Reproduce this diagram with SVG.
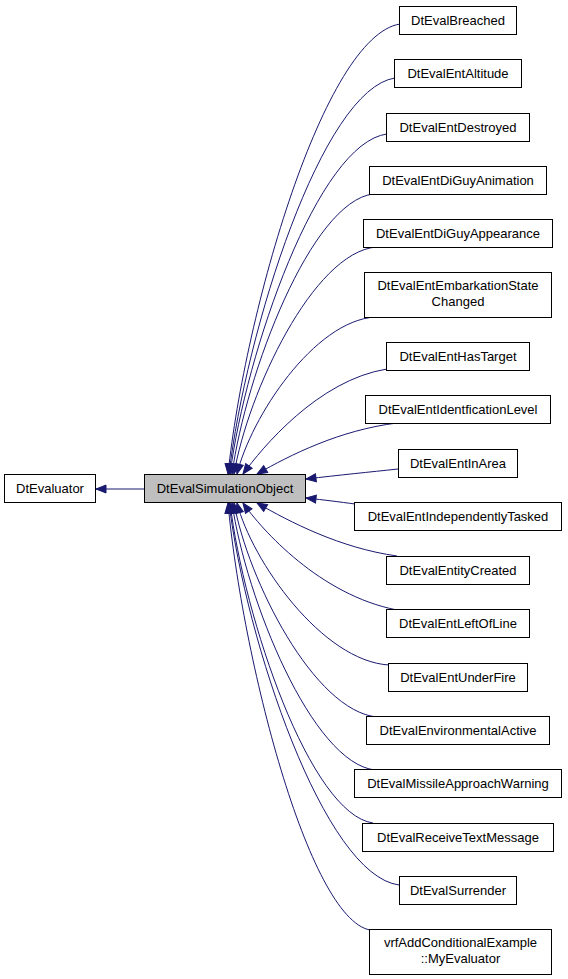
<svg xmlns="http://www.w3.org/2000/svg" width="568" height="979" viewBox="0 0 568 979">
<style>
.n rect{fill:#fff;stroke:#000;stroke-width:1}
.n.p rect{fill:#bfbfbf}
.n text{font-family:"Liberation Sans",Arial,sans-serif;font-size:13px;fill:#000;text-anchor:middle}
.e path{fill:none;stroke:#191970;stroke-width:1;marker-start:url(#ah)}
</style>
<defs>
<marker id="ah" markerUnits="userSpaceOnUse" viewBox="0 0 12 10" markerWidth="12" markerHeight="10" refX="11" refY="5" orient="auto-start-reverse">
<path d="M1,1 L11,5 L1,9 z" fill="#191970" stroke="#191970" stroke-width="1"/>
</marker>
</defs>
<rect width="568" height="979" fill="#fff"/>
<g id="connectors" class="e">
<path d="M96,489 L144,489"/>
<path d="M228,474 C245,312 324,36 400,24"/>
<path d="M229,474 C246,331 322,89 395,78"/>
<path d="M230,474 C246,352 318,143 387,134"/>
<path d="M232,474 C246,373 311,202 373,194"/>
<path d="M234,474 C248,392 313,253 376,247"/>
<path d="M237,474 C251,417 314,321 375,317"/>
<path d="M243,474 C262,448 318,380 387,369"/>
<path d="M257,474 C290,455 340,430 397,423"/>
<path d="M306,479 C340,475 370,472 398,469"/>
<path d="M306,498 C325,500 340,502 355,504"/>
<path d="M257,503 C290,522 340,548 397,556"/>
<path d="M243,503 C262,530 320,595 397,610"/>
<path d="M237,503 C252,561 322,661 389,665"/>
<path d="M234,503 C248,580 314,711 377,717"/>
<path d="M232,503 C246,599 312,763 375,770"/>
<path d="M230,503 C244,618 310,814 373,823"/>
<path d="M229,503 C246,641 324,875 399,885"/>
<path d="M228,503 C242,657 308,918 370,930"/>
</g>
<g id="DtEvaluator" class="n"><rect x="4.5" y="474.5" width="91" height="28"/><text x="50" y="493">DtEvaluator</text></g>
<g id="DtEvalSimulationObject" class="n p"><rect x="144.5" y="474.5" width="161" height="28"/><text x="225" y="493">DtEvalSimulationObject</text></g>
<g id="DtEvalBreached" class="n"><rect x="399.5" y="6.5" width="117" height="28"/><text x="458" y="25">DtEvalBreached</text></g>
<g id="DtEvalEntAltitude" class="n"><rect x="394.5" y="59.5" width="127" height="28"/><text x="458" y="78">DtEvalEntAltitude</text></g>
<g id="DtEvalEntDestroyed" class="n"><rect x="386.5" y="113.5" width="143" height="28"/><text x="458" y="132">DtEvalEntDestroyed</text></g>
<g id="DtEvalEntDiGuyAnimation" class="n"><rect x="369.5" y="166.5" width="177" height="28"/><text x="458" y="185">DtEvalEntDiGuyAnimation</text></g>
<g id="DtEvalEntDiGuyAppearance" class="n"><rect x="363.5" y="219.5" width="189" height="28"/><text x="458" y="238">DtEvalEntDiGuyAppearance</text></g>
<g id="DtEvalEntEmbarkationStateChanged" class="n"><rect x="364.5" y="272.5" width="187" height="45"/><text x="458" y="290">DtEvalEntEmbarkationState</text><text x="458" y="306">Changed</text></g>
<g id="DtEvalEntHasTarget" class="n"><rect x="386.5" y="342.5" width="143" height="28"/><text x="458" y="361">DtEvalEntHasTarget</text></g>
<g id="DtEvalEntIdentficationLevel" class="n"><rect x="365.5" y="395.5" width="185" height="28"/><text x="458" y="414">DtEvalEntIdentficationLevel</text></g>
<g id="DtEvalEntInArea" class="n"><rect x="398.5" y="449.5" width="119" height="28"/><text x="458" y="468">DtEvalEntInArea</text></g>
<g id="DtEvalEntIndependentlyTasked" class="n"><rect x="354.5" y="502.5" width="207" height="28"/><text x="458" y="521">DtEvalEntIndependentlyTasked</text></g>
<g id="DtEvalEntityCreated" class="n"><rect x="386.5" y="556.5" width="143" height="28"/><text x="458" y="575">DtEvalEntityCreated</text></g>
<g id="DtEvalEntLeftOfLine" class="n"><rect x="386.5" y="609.5" width="143" height="28"/><text x="458" y="628">DtEvalEntLeftOfLine</text></g>
<g id="DtEvalEntUnderFire" class="n"><rect x="388.5" y="663.5" width="139" height="28"/><text x="458" y="682">DtEvalEntUnderFire</text></g>
<g id="DtEvalEnvironmentalActive" class="n"><rect x="366.5" y="716.5" width="183" height="28"/><text x="458" y="735">DtEvalEnvironmentalActive</text></g>
<g id="DtEvalMissileApproachWarning" class="n"><rect x="354.5" y="769.5" width="207" height="28"/><text x="458" y="788">DtEvalMissileApproachWarning</text></g>
<g id="DtEvalReceiveTextMessage" class="n"><rect x="362.5" y="823.5" width="191" height="28"/><text x="458" y="842">DtEvalReceiveTextMessage</text></g>
<g id="DtEvalSurrender" class="n"><rect x="399.5" y="876.5" width="117" height="28"/><text x="458" y="895">DtEvalSurrender</text></g>
<g id="vrfAddConditionalExample_MyEvaluator" class="n"><rect x="369.5" y="929.5" width="182" height="45"/><text x="460.5" y="947">vrfAddConditionalExample</text><text x="460.5" y="963">::MyEvaluator</text></g>
</svg>
